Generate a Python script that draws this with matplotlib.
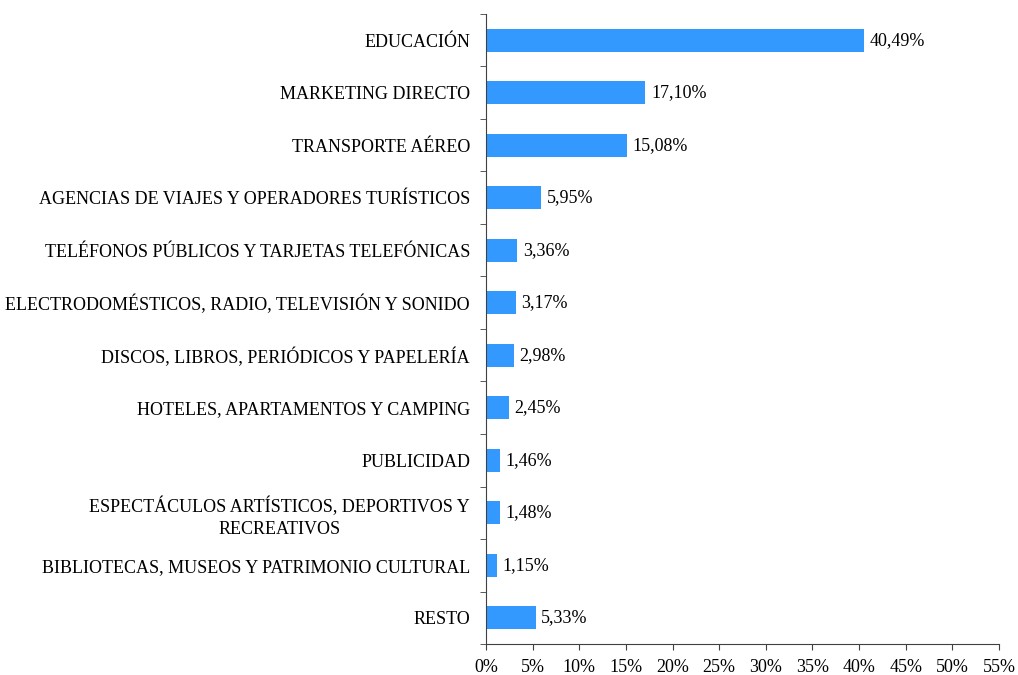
import matplotlib.pyplot as plt
import numpy as np

# Categories (top to bottom) and shares in percent
categories = [
    'EDUCACIÓN',
    'MARKETING DIRECTO',
    'TRANSPORTE AÉREO',
    'AGENCIAS DE VIAJES Y OPERADORES TURÍSTICOS',
    'TELÉFONOS PÚBLICOS Y TARJETAS TELEFÓNICAS',
    'ELECTRODOMÉSTICOS, RADIO, TELEVISIÓN Y SONIDO',
    'DISCOS, LIBROS, PERIÓDICOS Y PAPELERÍA',
    'HOTELES, APARTAMENTOS Y CAMPING',
    'PUBLICIDAD',
    'ESPECTÁCULOS ARTÍSTICOS, DEPORTIVOS Y\nRECREATIVOS',
    'BIBLIOTECAS, MUSEOS Y PATRIMONIO CULTURAL',
    'RESTO',
]
values = [40.49, 17.10, 15.08, 5.95, 3.36, 3.17, 2.98, 2.45, 1.46, 1.48, 1.15, 5.33]
x_ticks = list(range(0, 60, 5))

plt.rcParams['font.family'] = ['Liberation Serif', 'DejaVu Serif']

fig = plt.figure(figsize=(10.18, 6.75), dpi=100)
ax = fig.add_axes([0.4774, 0.0459, 0.9813 - 0.4774, 0.9793 - 0.0459])

y = np.arange(len(categories))
ax.barh(y, values, height=0.44, color='#3399FF')

# value labels right of each bar
for yi, v in zip(y, values):
    ax.annotate(f'{v:.2f}%'.replace('.', ','), (v, yi), xytext=(4, 0),
                textcoords='offset points', va='center', ha='left', fontsize=13)

ax.set_ylim(len(categories) - 0.5, -0.5)
ax.set_xlim(0, 55)
ax.set_yticks(y)
ax.set_yticklabels(categories, fontsize=13, multialignment='center', linespacing=1.4)
ax.tick_params(axis='y', length=0, pad=11.5)
# small ticks between categories
ax.set_yticks(np.arange(-0.5, len(categories), 1), minor=True)
ax.tick_params(axis='y', which='minor', length=4, color='#404040')

ax.set_xticks(x_ticks)
ax.set_xticklabels([f'{t}%' for t in x_ticks], fontsize=13)
ax.tick_params(axis='x', length=4, pad=7, color='#404040')

for s in ['top', 'right']:
    ax.spines[s].set_visible(False)
for s in ['left', 'bottom']:
    ax.spines[s].set_color('#404040')

fig.savefig('out.png', dpi=100)
